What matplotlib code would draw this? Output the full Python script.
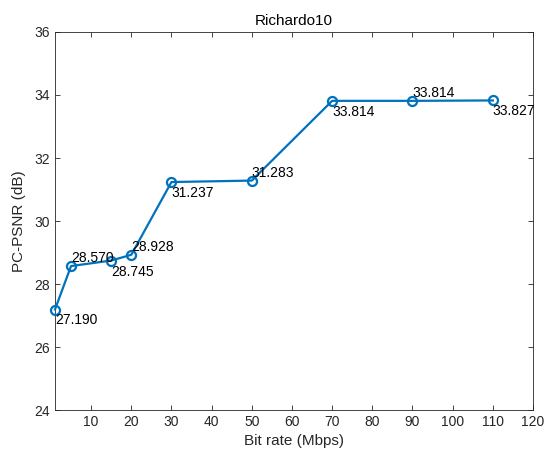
import matplotlib
matplotlib.use("Agg")
import matplotlib.pyplot as plt

bitrate = [1, 5, 15, 20, 30, 50, 70, 90, 110]
psnr = [27.190, 28.570, 28.745, 28.928, 31.237, 31.283, 33.814, 33.814, 33.827]
label_above = [False, True, False, True, False, True, False, True, False]
xticks = list(range(10, 121, 10))
yticks = list(range(24, 37, 2))

plt.rcParams['font.family'] = ['Liberation Sans', 'DejaVu Sans']
axcol = '#262626'

fig = plt.figure(figsize=(5.47, 4.61), dpi=100)
ax = fig.add_axes([0.1005, 0.1106, 0.8739, 0.82])
ax.plot(bitrate, psnr, color='#0072BD', lw=1.6, marker='o', ms=6.5,
        mfc='none', mec='#0072BD', mew=1.6, clip_on=False, zorder=3)
for x, y, up in zip(bitrate, psnr, label_above):
    ax.annotate(f"{y:.3f}", (x, y), xytext=(0, 5.8 if up else -7.9),
                textcoords='offset points', ha='left', va='center',
                fontsize=10, color='black')
ax.set_xlim(1, 120)
ax.set_ylim(24, 36)
ax.set_xticks(xticks)
ax.set_yticks(yticks)
ax.tick_params(direction='in', top=True, right=True, length=3.5, width=0.6,
               colors=axcol, labelsize=10, labelcolor=axcol)
for s in ax.spines.values():
    s.set_color(axcol)
    s.set_linewidth(0.6)
ax.set_xlabel('Bit rate (Mbps)', fontsize=11, color=axcol)
ax.set_ylabel('PC-PSNR (dB)', fontsize=11, color=axcol, labelpad=6)
ax.set_title('Richardo10', fontsize=11, color='black', pad=5)
fig.savefig('out.png', dpi=100)
